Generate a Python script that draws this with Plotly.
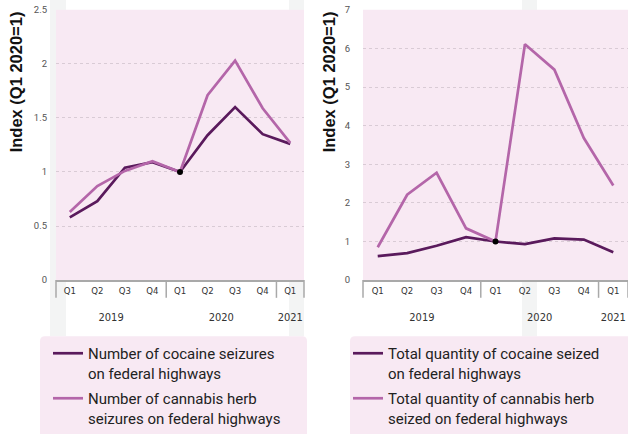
import plotly.graph_objects as go

# ---------------- data ----------------
years = ["2019", "2019", "2019", "2019", "2020", "2020", "2020", "2020", "2021"]
quarters = ["Q1", "Q2", "Q3", "Q4", "Q1", "Q2", "Q3", "Q4", "Q1"]

cocaine_seizures = [0.58, 0.73, 1.04, 1.09, 1.00, 1.34, 1.60, 1.35, 1.26]
cannabis_seizures = [0.63, 0.87, 1.01, 1.10, 1.00, 1.71, 2.03, 1.59, 1.27]
cocaine_quantity = [0.62, 0.70, 0.89, 1.11, 1.00, 0.93, 1.08, 1.05, 0.72]
cannabis_quantity = [0.85, 2.21, 2.78, 1.34, 1.00, 6.11, 5.45, 3.68, 2.45]

left_names = ["Number of cocaine seizures<br>on federal highways",
              "Number of cannabis herb<br>seizures on federal highways"]
right_names = ["Total quantity of cocaine seized<br>on federal highways",
               "Total quantity of cannabis herb<br>seized on federal highways"]
y_title = "Index (Q1 2020=1)"
base_index = 4  # Q1 2020 = 1

# ---------------- style ----------------
W, H = 628, 434
DARK = "#5a1a5c"
LIGHT = "#b466a9"
PINK = "#f8e9f3"
BAND = "#f3f4f4"
AXIS = "#a9a9a9"
GRID = "#d9cbd5"
NARROW = "Liberation Sans Narrow, DejaVu Sans Condensed, Arial Narrow, sans-serif"


def px_x(p):
    return p / W


def px_y(p):
    return 1 - p / H


year_lbl = ["<br><span style='font-size:11px'>%s</span>" % y for y in years]
q_lbl = ["<span style='font-size:9.5px'>%s</span>" % q for q in quarters]
xcat = [year_lbl, q_lbl]

fig = go.Figure()

fig.add_trace(go.Scatter(x=xcat, y=cocaine_seizures, name=left_names[0], mode="lines",
                         line=dict(color=DARK, width=2.7), xaxis="x", yaxis="y", legend="legend",
                         legendgroup="a"))
fig.add_trace(go.Scatter(x=xcat, y=cannabis_seizures, name=left_names[1], mode="lines",
                         line=dict(color=LIGHT, width=2.7), xaxis="x", yaxis="y", legend="legend",
                         legendgroup="b"))
fig.add_trace(go.Scatter(x=[[year_lbl[base_index]], [q_lbl[base_index]]],
                         y=[cocaine_seizures[base_index]], mode="markers",
                         marker=dict(color="black", size=6), showlegend=False,
                         xaxis="x", yaxis="y"))

fig.add_trace(go.Scatter(x=xcat, y=cocaine_quantity, name=right_names[0], mode="lines",
                         line=dict(color=DARK, width=2.7), xaxis="x2", yaxis="y2", legend="legend2",
                         legendgroup="c"))
fig.add_trace(go.Scatter(x=xcat, y=cannabis_quantity, name=right_names[1], mode="lines",
                         line=dict(color=LIGHT, width=2.7), xaxis="x2", yaxis="y2", legend="legend2",
                         legendgroup="d"))
fig.add_trace(go.Scatter(x=[[year_lbl[base_index]], [q_lbl[base_index]]],
                         y=[cocaine_quantity[base_index]], mode="markers",
                         marker=dict(color="black", size=6), showlegend=False,
                         xaxis="x2", yaxis="y2"))

ydom = [px_y(284), px_y(10)]
xaxis_common = dict(type="multicategory", showline=True, linecolor=AXIS, linewidth=1.5,
                    showgrid=False, zeroline=False, ticks="outside", ticklen=6,
                    tickcolor="rgba(0,0,0,0)", showdividers=False,
                    range=[-0.5, len(quarters) - 0.5],
                    tickfont=dict(family=NARROW, size=10.5, color="#333"), automargin=False,
                    fixedrange=True)
yaxis_common = dict(showgrid=True, gridcolor=GRID, griddash="dot", gridwidth=1,
                    zeroline=False, showline=False, ticks="", ticklabeloverflow="allow",
                    tickfont=dict(family="Roboto, Arial, sans-serif", size=9.5, color="#555"),
                    automargin=False, fixedrange=True)

legend_common = dict(bgcolor="rgba(0,0,0,0)", font=dict(family="Roboto, Arial, sans-serif", size=15, color="#222"),
                     valign="top", xanchor="left", yanchor="top", tracegroupgap=3,
                     itemclick=False, itemdoubleclick=False)

fig.update_layout(
    width=W, height=H, margin=dict(l=0, r=0, t=0, b=0),
    paper_bgcolor="white", plot_bgcolor="rgba(0,0,0,0)",
    xaxis=dict(domain=[px_x(56), px_x(304)], anchor="y", **xaxis_common),
    yaxis=dict(domain=ydom, anchor="x", range=[0, 2.5], dtick=0.5, ticklabelstandoff=8, **yaxis_common),
    xaxis2=dict(domain=[px_x(363), 1.0], anchor="y2", **xaxis_common),
    yaxis2=dict(domain=ydom, anchor="x2", range=[0, 7], dtick=1, ticklabelstandoff=12, **yaxis_common),
    legend=dict(x=px_x(48), y=px_y(342), **legend_common),
    legend2=dict(x=px_x(348), y=px_y(342), **legend_common),
    showlegend=True,
)

shapes = []
# faint page bands
for x0, x1 in [(50, 66), (289, 304), (522, 537)]:
    shapes.append(dict(type="rect", xref="paper", yref="paper", x0=px_x(x0), x1=px_x(x1),
                       y0=px_y(341), y1=1, fillcolor=BAND, line=dict(width=0), layer="below"))


def rounded_box(l, t, r, b, rad):
    def P(x, y):
        return "%f,%f" % (px_x(x), px_y(y))
    return ("M " + P(l + rad, t) + " L " + P(r - rad, t) + " Q " + P(r, t) + " " + P(r, t + rad) +
            " L " + P(r, b - rad) + " Q " + P(r, b) + " " + P(r - rad, b) +
            " L " + P(l + rad, b) + " Q " + P(l, b) + " " + P(l, b - rad) +
            " L " + P(l, t + rad) + " Q " + P(l, t) + " " + P(l + rad, t) + " Z")


shapes.append(dict(type="path", xref="paper", yref="paper", path=rounded_box(40, 341, 307, 445, 5),
                   fillcolor=PINK, line=dict(width=0), layer="below"))
shapes.append(dict(type="path", xref="paper", yref="paper", path=rounded_box(350, 341, 645, 445, 5),
                   fillcolor=PINK, line=dict(width=0), layer="below"))

for xa, ya in [("x", "y"), ("x2", "y2")]:
    shapes.append(dict(type="rect", xref=xa + " domain", yref=ya + " domain", x0=0, x1=1, y0=0, y1=1,
                       fillcolor=PINK, line=dict(width=0), layer="below"))
    for xd in [0, 4 / 9, 8 / 9, 1]:
        shapes.append(dict(type="line", xref=xa + " domain", yref=ya + " domain", x0=xd, x1=xd,
                           y0=0, y1=-18 / 274, line=dict(color=AXIS, width=1.5), layer="above"))

annotations = []
for xc in [16, 329]:
    annotations.append(dict(text="<b>%s</b>" % y_title, xref="paper", yref="paper",
                            x=px_x(xc), y=px_y(10), xanchor="center", yanchor="top",
                            textangle=-90, showarrow=False,
                            font=dict(family="Liberation Sans, Arial, sans-serif", size=16.5, color="#111")))

fig.update_layout(shapes=shapes, annotations=annotations)

# remove the browser's default 8px page margin so the figure sits at the window origin
fig.write_html("out.html", config={"displayModeBar": False, "staticPlot": False},
               post_script="document.body.style.margin='0';")
